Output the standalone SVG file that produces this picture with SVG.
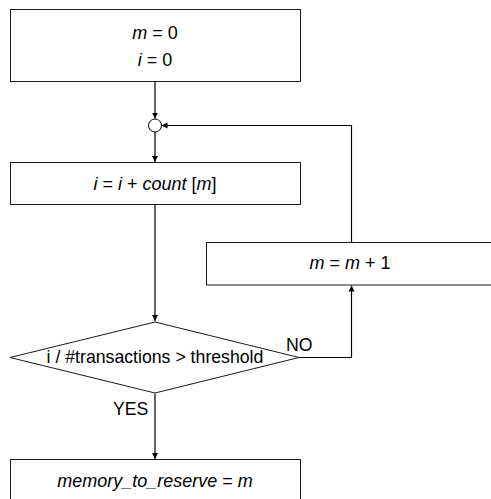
<svg xmlns="http://www.w3.org/2000/svg" width="491" height="499" viewBox="0 0 491 499">
  <style>
    .box { fill: #ffffff; stroke: #1a1a1a; stroke-width: 1; }
    .wire { fill: none; stroke: #000000; stroke-width: 1.2; }
    text { font-family: "Liberation Sans", Arial, sans-serif; font-size: 18px; fill: #000000; }
    .c { text-anchor: middle; }
    .it { font-style: italic; }
  </style>
  <defs>
    <marker id="arrow" viewBox="0 0 10 10" refX="10" refY="5" markerWidth="6" markerHeight="8" markerUnits="userSpaceOnUse" orient="auto">
      <path d="M0,0 L10,5 L0,10 z" fill="#000000"/>
    </marker>
  </defs>
  <rect width="491" height="499" fill="#ffffff"/>

  <!-- connectors -->
  <g id="connectors">
    <line class="wire" x1="155" y1="81.5" x2="155" y2="118.5" marker-end="url(#arrow)"/>
    <line class="wire" x1="155" y1="131.5" x2="155" y2="162" marker-end="url(#arrow)"/>
    <line class="wire" x1="155" y1="205" x2="155" y2="321" marker-end="url(#arrow)"/>
    <polyline class="wire" points="299,357.5 351.5,357.5 351.5,285.5" marker-end="url(#arrow)"/>
    <polyline class="wire" points="351.5,242 351.5,125.5 161.5,125.5" marker-end="url(#arrow)"/>
    <line class="wire" x1="155" y1="393.5" x2="155" y2="459" marker-end="url(#arrow)"/>
  </g>

  <g id="init">
    <rect class="box" x="10.5" y="9.5" width="290" height="72"/>
    <text class="c" x="155" y="39"><tspan class="it">m</tspan> = 0</text>
    <text class="c" x="155" y="66"><tspan class="it">i</tspan> = 0</text>
  </g>

  <g id="junction">
    <circle cx="155" cy="125.5" r="6.5" fill="#ffffff" stroke="#000000" stroke-width="1"/>
  </g>

  <g id="accumulate">
    <rect class="box" x="10.5" y="162.5" width="290" height="42"/>
    <text class="c" x="155" y="190"><tspan class="it">i</tspan> = <tspan class="it">i</tspan> + <tspan class="it">count</tspan> [<tspan class="it">m</tspan>]</text>
  </g>

  <g id="increment">
    <rect class="box" x="206.5" y="242.5" width="300" height="42.5"/>
    <text class="c" x="350" y="269"><tspan class="it">m</tspan> = <tspan class="it">m</tspan> + 1</text>
  </g>

  <g id="decision">
    <polygon class="box" points="155,322 299,357.5 155,393 10,357.5"/>
    <text class="c" x="155" y="363" style="font-size:17.7px">i / #transactions &gt; threshold</text>
    <text x="286" y="350.5" style="font-size:17.7px">NO</text>
    <text x="113" y="415" style="font-size:17.7px">YES</text>
  </g>

  <g id="result">
    <rect class="box" x="10.5" y="459.5" width="290" height="50"/>
    <text class="c" x="155" y="487"><tspan class="it">memory_to_reserve</tspan> = <tspan class="it">m</tspan></text>
  </g>
</svg>
